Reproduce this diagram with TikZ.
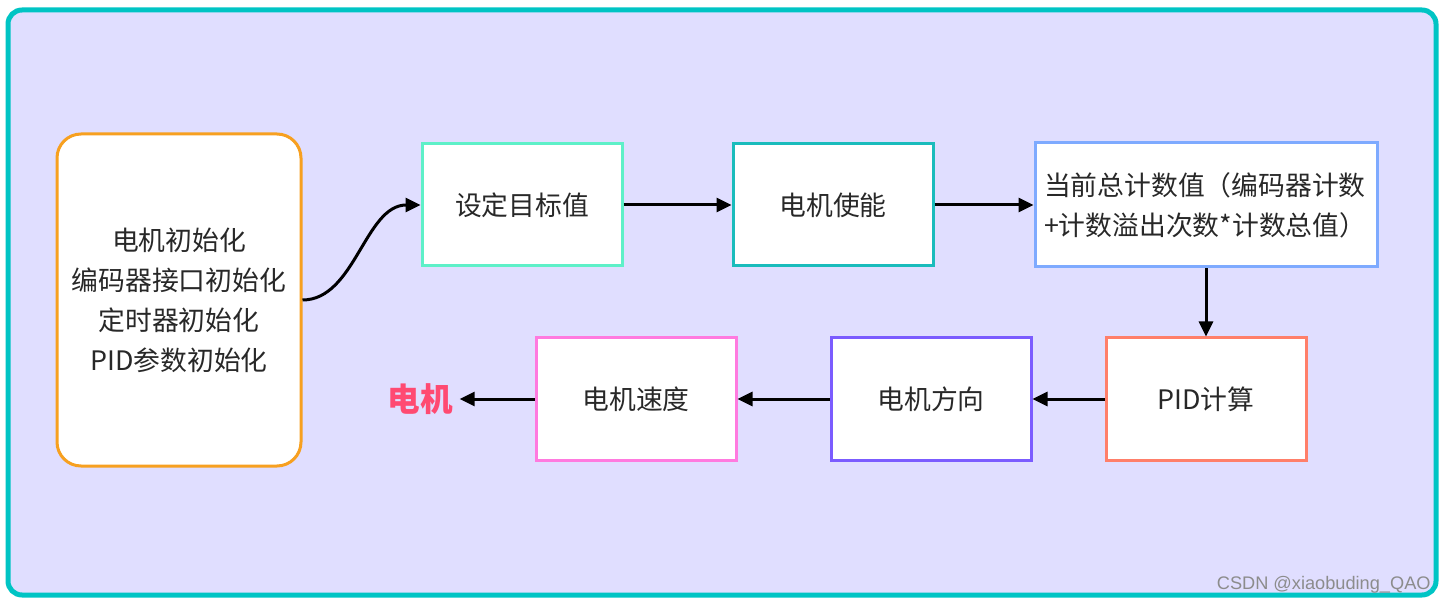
\documentclass[tikz,border=0pt]{standalone}
\usepackage{fontspec}
\setmainfont{Noto Sans CJK SC}
\setsansfont{Liberation Sans}
\usetikzlibrary{arrows.meta}

\definecolor{framecol}{RGB}{0,196,196}
\definecolor{bgcol}{RGB}{224,222,255}
\definecolor{initcol}{RGB}{247,160,32}
\definecolor{setcol}{RGB}{94,240,200}
\definecolor{enacol}{RGB}{26,188,188}
\definecolor{cntcol}{RGB}{126,170,255}
\definecolor{pidcol}{RGB}{255,127,106}
\definecolor{dircol}{RGB}{123,92,255}
\definecolor{spdcol}{RGB}{255,122,223}
\definecolor{motorcol}{RGB}{255,74,114}
\definecolor{txtcol}{RGB}{40,40,40}

\tikzset{
  stepbox/.style={rectangle,draw,fill=white,line width=1.5pt,inner sep=0pt,
    minimum width=100pt,minimum height=61pt,text=txtcol,
    font=\fontsize{13.4}{20}\selectfont},
  flow/.style={-{Triangle[length=7.5pt,width=7pt]},line width=1.5pt}
}

\begin{document}
\begin{tikzpicture}[x=0.5pt,y=-0.5pt]
  \useasboundingbox (0,0) rectangle (1446,604);
  \draw[framecol,fill=bgcol,line width=2.5pt,rounded corners=7pt] (8,10) rectangle (1436,595);

  \node at (179,300) [stepbox,draw=initcol,rounded corners=12pt,minimum width=122pt,minimum height=166pt,align=center] (c100)
    {电机初始化\\编码器接口初始化\\定时器初始化\\PID参数初始化};
  \node at (522,205) [stepbox,draw=setcol] (c200) {设定目标值};
  \node at (833,205) [stepbox,draw=enacol] (c300) {电机使能};
  \node at (1206,205) [stepbox,draw=cntcol,minimum width=171pt,minimum height=62pt,text width=162pt,align=left] (c400)
    {当前总计数值（编码器计数\\+计数溢出次数*计数总值）};
  \node at (1206,399) [stepbox,draw=pidcol] (c500) {PID计算};
  \node at (931,399) [stepbox,draw=dircol] (c600) {电机方向};
  \node at (636,399) [stepbox,draw=spdcol] (c700) {电机速度};
  \node at (420,399) [text=motorcol,font=\fontsize{16.3}{20}\selectfont\bfseries] (c800) {电机};

  \draw[flow] (c100.east) .. controls (355,300) and (365,205) .. (c200.west);
  \draw[flow] (c200) -- (c300);
  \draw[flow] (c300) -- (c400);
  \draw[flow] (c400) -- (c500);
  \draw[flow] (c500) -- (c600);
  \draw[flow] (c600) -- (c700);
  \draw[flow] (c700) -- (c800);

  \node at (1431,585) [anchor=east,inner sep=0pt,text=black!45,font=\sffamily\fontsize{9.1}{10}\selectfont] (c900) {CSDN @xiaobuding\_QAO};
\end{tikzpicture}
\end{document}
